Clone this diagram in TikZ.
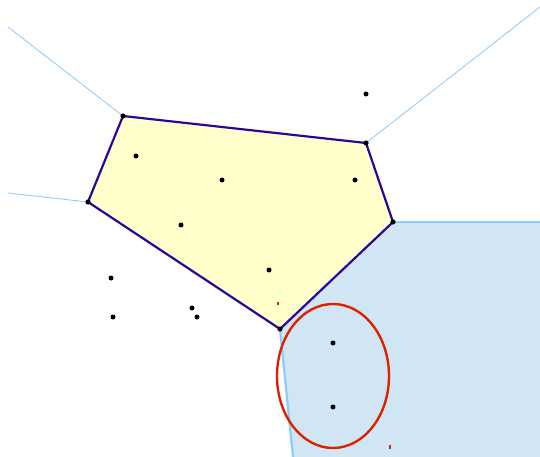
\documentclass[tikz,border=0pt]{standalone}
\usepackage{tikz}

\definecolor{cellfill}{HTML}{FFFFCC}
\definecolor{celledge}{HTML}{2A0599}
\definecolor{raycol}{HTML}{99CCF5}
\definecolor{regfill}{HTML}{D0E6F4}
\definecolor{regedge}{HTML}{8CCBFA}
\definecolor{ringcol}{HTML}{DD2200}

\tikzset{
  site/.style={circle,fill=black,inner sep=0pt,minimum size=5pt},
  ray/.style={raycol,line width=.9pt},
}

\begin{document}
\begin{tikzpicture}[x=1pt,y=-1pt,line width=.8pt]
  \useasboundingbox (0,0) rectangle (540,457);
  % corners of the cell
  \coordinate (a) at (123,116);
  \coordinate (b) at (366,143);
  \coordinate (c) at (393,222);
  \coordinate (d) at (280,329);
  \coordinate (e) at (88,202);
  \coordinate (ra) at (8,27);
  \coordinate (rb) at (540,7);
  \coordinate (rc) at (540,222);
  \coordinate (rd) at (293,457);
  \coordinate (re) at (8,193);

  \fill[regfill] (c) -- (rc) -- (540,457) -- (rd) -- (d) -- cycle;
  \draw[regedge,line width=2.2pt] (rc) -- (c);
  \draw[regedge,line width=2.2pt] (d) -- (rd);
  \draw[ray] (a) -- (ra);
  \draw[ray] (b) -- (rb);
  \draw[ray] (e) -- (re);

  \fill[cellfill] (a) -- (b) -- (c) -- (d) -- (e) -- cycle;
  \draw[celledge,line width=2.2pt,line join=round] (a) -- (b) -- (c) -- (d) -- (e) -- cycle;
  \foreach \v in {a,b,c,d,e}
    \fill (\v) circle (2.6pt);

  \draw[ringcol,line width=2.4pt] (333,376) ellipse (56 and 72);
  \draw[ringcol,line width=1.2pt] (278,302) -- (278,305);
  \draw[ringcol,line width=1.2pt] (390,445) -- (390,449);

  \node[site] (s1) at (366,94) {};
  \node[site] (s2) at (136,156) {};
  \node[site] (s3) at (222,180) {};
  \node[site] (s4) at (355,180) {};
  \node[site] (s5) at (181,225) {};
  \node[site] (s6) at (269,270) {};
  \node[site] (s7) at (111,278) {};
  \node[site] (s8) at (113,317) {};
  \node[site] (s9) at (192,308) {};
  \node[site] (s10) at (197,317) {};
  \node[site] (s11) at (333,343) {};
  \node[site] (s12) at (333,407) {};
\end{tikzpicture}
\end{document}
